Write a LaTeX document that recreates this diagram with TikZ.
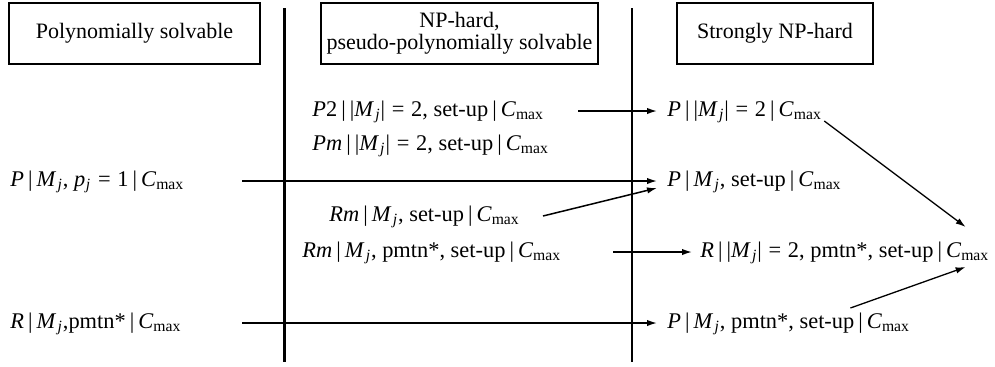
\documentclass[tikz,border=0pt]{standalone}
\usepackage{fontspec}
\setmainfont{Liberation Serif}
\usetikzlibrary{arrows.meta}
\newcommand{\Mj}{\textit{M}\textsubscript{\kern0.08em\textit{j}}}
\newcommand{\pj}{\textit{p}\textsubscript{\kern0.04em\textit{j}}}
\newcommand{\cmx}{\textit{C}\textsubscript{max}}
\newcommand{\vb}{\hspace{0.18em}|\hspace{0.18em}}
\newcommand{\eqs}{\hspace{0.3em}=\hspace{0.3em}}
\begin{document}
\begin{tikzpicture}[x=0.5pt,y=-0.5pt, font=\fontsize{11}{12}\selectfont,
  hdr/.style={draw,line width=0.7pt,inner sep=0pt,align=center,minimum height=30.5pt},
  frm/.style={inner sep=0pt,text height=8pt,text depth=3pt,anchor=west,font=\fontsize{11.2}{12}\selectfont},
  arr/.style={line width=0.75pt,-{Latex[length=5pt,width=3.2pt]}},
  darr/.style={line width=0.65pt,-{Latex[length=5pt,width=3.2pt]}}]
\useasboundingbox (0,0) rectangle (995,366);
\node[hdr,minimum width=125.5pt] (h1) at (134.5,33.5) {Polynomially solvable};
\node[hdr,minimum width=138.5pt,font=\fontsize{11}{11}\selectfont] (h2) at (459.5,33.5) {NP-hard,\\pseudo-polynomially solvable};
\node[hdr,minimum width=98pt] (h3) at (775,33.5) {Strongly NP-hard};
\draw[line width=1.5pt] (284,8) -- (284,362);
\draw[line width=1pt] (632,8) -- (632,362);
% column 1
\node[frm] (a1) at (10,181) {\textit{P}\vb\Mj, \pj\eqs 1\vb\cmx};
\node[frm] (a2) at (10,323) {\textit{R}\vb\Mj,pmtn*\vb\cmx};
% column 2
\node[frm] (b1) at (312,111) {\textit{P}2\vb|\Mj|\eqs 2, set-up\vb\cmx};
\node[frm] (b2) at (312,145) {\textit{Pm}\vb|\Mj|\eqs 2, set-up\vb\cmx};
\node[frm] (b3) at (329,216) {\textit{Rm}\vb\Mj, set-up\vb\cmx};
\node[frm] (b4) at (302,252) {\textit{Rm}\vb\Mj, pmtn*, set-up\vb\cmx};
% column 3
\node[frm] (c1) at (667,111) {\textit{P}\vb|\Mj|\eqs 2\vb\cmx};
\node[frm] (c2) at (667,181) {\textit{P}\vb\Mj, set-up\vb\cmx};
\node[frm] (c3) at (700,252) {\textit{R}\vb|\Mj|\eqs 2, pmtn*, set-up\vb\cmx};
\node[frm] (c4) at (667,323) {\textit{P}\vb\Mj, pmtn*, set-up\vb\cmx};
% arrows
\draw[arr] (b1.east -| 578,0) -- ([xshift=-5pt]c1.west);
\draw[arr] (a1.east -| 242,0) -- ([xshift=-5pt]c2.west);
\draw[arr] (b3.east -| 543,0) -- ([xshift=-5pt,yshift=-3.5pt]c2.west);
\draw[arr] (b4.east -| 613,0) -- ([xshift=-4pt]c3.west);
\draw[arr] (a2.east -| 242,0) -- ([xshift=-5pt]c4.west);
\draw[darr] ([xshift=1pt,yshift=-5pt]c1.east) -- ([xshift=-12pt,yshift=12.5pt]c3.east);
\draw[darr] ([xshift=-30pt,yshift=7.5pt]c4.east) -- ([xshift=-12pt,yshift=-7.5pt]c3.east);
\end{tikzpicture}
\end{document}
